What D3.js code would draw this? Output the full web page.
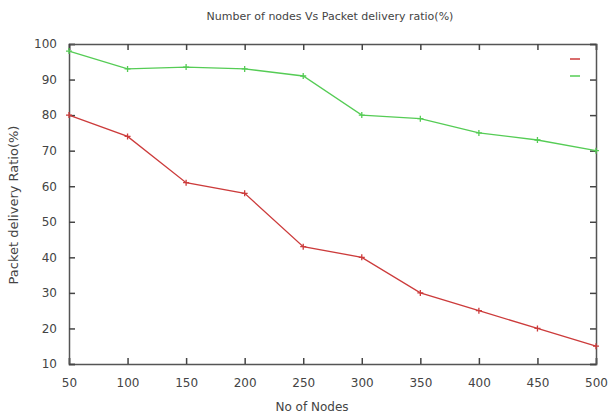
<!DOCTYPE html>
<html>
<head>
<meta charset="utf-8">
<script src="https://cdn.jsdelivr.net/npm/d3@7"></script>
<style>
  body { margin: 0; background: #fff; }
  text { font-family: "DejaVu Sans", sans-serif; fill: #444; }
</style>
</head>
<body>
<script>
// chart values
var nodes = [50, 100, 150, 200, 250, 300, 350, 400, 450, 500];
var redSeries = [80, 74, 61, 58, 43, 40, 30, 25, 20, 15];
var greenSeries = [98, 93, 93.5, 93, 91, 80, 79, 75, 73, 70];
var yTicks = [10, 20, 30, 40, 50, 60, 70, 80, 90, 100];
var xTicks = nodes;

var width = 609, height = 416;
var margin = { top: 44, right: 13, bottom: 52, left: 69 };
var plotW = width - margin.left - margin.right,
    plotH = height - margin.top - margin.bottom;

var svg = d3.select("body").append("svg")
  .attr("width", width)
  .attr("height", height);

var x = d3.scaleLinear().domain([50, 500]).range([0, plotW]);
var y = d3.scaleLinear().domain([10, 100]).range([plotH, 0]);

var g = svg.append("g")
  .attr("transform", "translate(" + margin.left + "," + margin.top + ")");

// axes: ticks point inward, mirrored on opposite sides
var axisBottomG = g.append("g").attr("transform", "translate(0," + plotH + ")")
  .call(d3.axisBottom(x).tickValues(xTicks).tickSize(-6).tickPadding(14));
var axisLeftG = g.append("g")
  .call(d3.axisLeft(y).tickValues(yTicks).tickSize(-6).tickPadding(12));
var axisTopG = g.append("g")
  .call(d3.axisTop(x).tickValues(xTicks).tickSize(-6).tickFormat(""));
var axisRightG = g.append("g").attr("transform", "translate(" + plotW + ",0)")
  .call(d3.axisRight(y).tickValues(yTicks).tickSize(-6).tickFormat(""));

[axisBottomG, axisLeftG, axisTopG, axisRightG].forEach(function (a) {
  a.select(".domain").attr("stroke", "#555").attr("stroke-width", 1.5);
  a.selectAll(".tick line").attr("stroke", "#444").attr("stroke-width", 1.5);
  a.selectAll(".tick text").style("font-size", "12px").attr("fill", "#555");
});

// series lines with + markers
function drawSeries(values, color) {
  var data = nodes.map(function (n, i) { return [n, values[i]]; });
  g.append("path")
    .datum(data)
    .attr("fill", "none")
    .attr("stroke", color)
    .attr("stroke-width", 1.3)
    .attr("d", d3.line().x(function (d) { return x(d[0]); }).y(function (d) { return y(d[1]); }));
  g.selectAll(null).data(data).enter().append("path")
    .attr("transform", function (d) { return "translate(" + x(d[0]) + "," + y(d[1]) + ")"; })
    .attr("d", "M-3,0H3M0,-3V3")
    .attr("stroke", color)
    .attr("stroke-width", 1.3);
}
drawSeries(redSeries, "#cc3b3b");
drawSeries(greenSeries, "#55cc55");

// legend keys (no titles)
g.append("line").attr("x1", plotW - 26).attr("x2", plotW - 16)
  .attr("y1", 15).attr("y2", 15).attr("stroke", "#cc3b3b").attr("stroke-width", 1.5);
g.append("line").attr("x1", plotW - 26).attr("x2", plotW - 16)
  .attr("y1", 32).attr("y2", 32).attr("stroke", "#55cc55").attr("stroke-width", 1.5);

// title and axis labels
svg.append("text")
  .attr("x", 330).attr("y", 20)
  .attr("text-anchor", "middle")
  .style("font-size", "11px")
  .text("Number of nodes Vs Packet delivery ratio(%)");

svg.append("text")
  .attr("x", 312).attr("y", 411)
  .attr("text-anchor", "middle")
  .style("font-size", "12px")
  .text("No of Nodes");

svg.append("text")
  .attr("transform", "translate(18,205) rotate(-90)")
  .attr("text-anchor", "middle")
  .style("font-size", "13px")
  .text("Packet delivery Ratio(%)");
</script>
</body>
</html>
